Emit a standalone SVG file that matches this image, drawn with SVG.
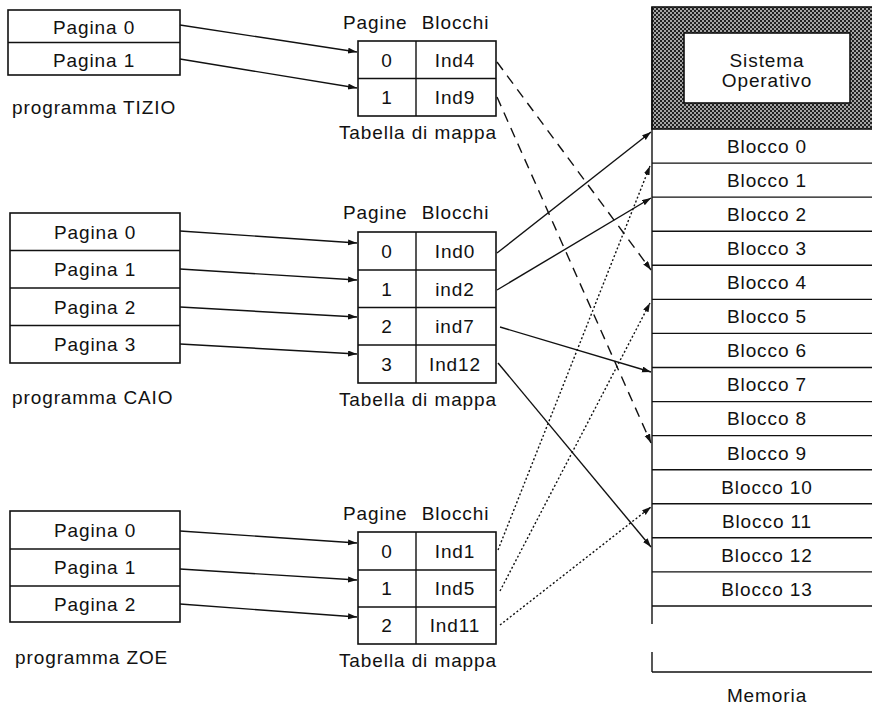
<svg xmlns="http://www.w3.org/2000/svg" width="872" height="708" viewBox="0 0 872 708">
<style>
text{font-family:"Liberation Sans",Arial,sans-serif;font-size:19px;fill:#111;letter-spacing:0.9px}
.c{text-anchor:middle}
.box{fill:#fff;stroke:#111;stroke-width:1.6}
.ln{stroke:#111;stroke-width:1.4;fill:none}
.con{stroke:#111;stroke-width:1.4;fill:none}
.dash{stroke-dasharray:10 7}
.dot{stroke-dasharray:2 2.2}
</style>
<defs>
<marker id="ah" markerUnits="userSpaceOnUse" markerWidth="10" markerHeight="8" refX="9" refY="3" orient="auto">
<path d="M0,0 L9,3 L0,6 Z" fill="#111"/>
</marker>
<pattern id="hatch" width="4" height="4" patternUnits="userSpaceOnUse">
<rect width="4" height="4" fill="#a5a5a5"/>
<rect width="2" height="2" fill="#222"/>
<rect x="2" y="2" width="2" height="2" fill="#222"/>
</pattern>
</defs>

<g id="tizio">
<rect class="box" x="8" y="10" width="172" height="65"/>
<line class="ln" x1="8" y1="42.5" x2="180" y2="42.5"/>
<text class="c" x="94" y="34">Pagina 0</text>
<text class="c" x="94" y="67">Pagina 1</text>
<text x="12" y="114">programma TIZIO</text>
</g>

<g id="tizio-table">
<text x="343" y="29">Pagine <tspan dx="8">Blocchi</tspan></text>
<rect class="box" x="358" y="41" width="138" height="75"/>
<line class="ln" x1="358" y1="78.5" x2="496" y2="78.5"/>
<line class="ln" x1="416" y1="41" x2="416" y2="116"/>
<text class="c" x="387" y="67">0</text>
<text class="c" x="455" y="67">Ind4</text>
<text class="c" x="387" y="104">1</text>
<text class="c" x="455" y="104">Ind9</text>
<text class="c" x="418" y="139">Tabella di mappa</text>
</g>

<g id="caio">
<rect class="box" x="10" y="213" width="170" height="150"/>
<line class="ln" x1="10" y1="250.5" x2="180" y2="250.5"/>
<line class="ln" x1="10" y1="288" x2="180" y2="288"/>
<line class="ln" x1="10" y1="325.5" x2="180" y2="325.5"/>
<text class="c" x="95" y="239">Pagina 0</text>
<text class="c" x="95" y="276">Pagina 1</text>
<text class="c" x="95" y="314">Pagina 2</text>
<text class="c" x="95" y="351">Pagina 3</text>
<text x="12" y="404">programma CAIO</text>
</g>

<g id="caio-table">
<text x="343" y="219">Pagine <tspan dx="8">Blocchi</tspan></text>
<rect class="box" x="358" y="232" width="138" height="151"/>
<line class="ln" x1="358" y1="270" x2="496" y2="270"/>
<line class="ln" x1="358" y1="307.5" x2="496" y2="307.5"/>
<line class="ln" x1="358" y1="345" x2="496" y2="345"/>
<line class="ln" x1="416" y1="232" x2="416" y2="383"/>
<text class="c" x="387" y="258">0</text>
<text class="c" x="455" y="258">Ind0</text>
<text class="c" x="387" y="296">1</text>
<text class="c" x="455" y="296">ind2</text>
<text class="c" x="387" y="333">2</text>
<text class="c" x="455" y="333">ind7</text>
<text class="c" x="387" y="371">3</text>
<text class="c" x="455" y="371">Ind12</text>
<text class="c" x="418" y="406">Tabella di mappa</text>
</g>

<g id="zoe">
<rect class="box" x="10" y="511" width="170" height="111"/>
<line class="ln" x1="10" y1="549" x2="180" y2="549"/>
<line class="ln" x1="10" y1="586" x2="180" y2="586"/>
<text class="c" x="95" y="537">Pagina 0</text>
<text class="c" x="95" y="574">Pagina 1</text>
<text class="c" x="95" y="611">Pagina 2</text>
<text x="15" y="664">programma ZOE</text>
</g>

<g id="zoe-table">
<text x="343" y="520">Pagine <tspan dx="8">Blocchi</tspan></text>
<rect class="box" x="358" y="532" width="138" height="112"/>
<line class="ln" x1="358" y1="570" x2="496" y2="570"/>
<line class="ln" x1="358" y1="607" x2="496" y2="607"/>
<line class="ln" x1="416" y1="532" x2="416" y2="644"/>
<text class="c" x="387" y="558">0</text>
<text class="c" x="455" y="558">Ind1</text>
<text class="c" x="387" y="595">1</text>
<text class="c" x="455" y="595">Ind5</text>
<text class="c" x="387" y="632">2</text>
<text class="c" x="455" y="632">Ind11</text>
<text class="c" x="418" y="667">Tabella di mappa</text>
</g>

<g id="memory">
<rect x="652" y="7" width="222" height="122" fill="url(#hatch)" stroke="#111" stroke-width="1.6"/>
<rect class="box" x="684" y="33" width="166" height="70"/>
<text class="c" x="767" y="67">Sistema</text>
<text class="c" x="767" y="87">Operativo</text>
<line class="ln" x1="652" y1="7" x2="652" y2="624" stroke-width="1.6"/>
<line class="ln" x1="652" y1="652" x2="652" y2="672" stroke-width="1.6"/>
<line class="ln" x1="652" y1="672" x2="872" y2="672" stroke-width="1.6"/>
<g class="ln">
<line x1="652" y1="163.1" x2="872" y2="163.1"/>
<line x1="652" y1="197.1" x2="872" y2="197.1"/>
<line x1="652" y1="231.2" x2="872" y2="231.2"/>
<line x1="652" y1="265.3" x2="872" y2="265.3"/>
<line x1="652" y1="299.4" x2="872" y2="299.4"/>
<line x1="652" y1="333.4" x2="872" y2="333.4"/>
<line x1="652" y1="367.5" x2="872" y2="367.5"/>
<line x1="652" y1="401.6" x2="872" y2="401.6"/>
<line x1="652" y1="435.6" x2="872" y2="435.6"/>
<line x1="652" y1="469.7" x2="872" y2="469.7"/>
<line x1="652" y1="503.8" x2="872" y2="503.8"/>
<line x1="652" y1="537.8" x2="872" y2="537.8"/>
<line x1="652" y1="571.9" x2="872" y2="571.9"/>
<line x1="652" y1="606" x2="872" y2="606"/>
</g>
<text class="c" x="767" y="153">Blocco 0</text>
<text class="c" x="767" y="187">Blocco 1</text>
<text class="c" x="767" y="221">Blocco 2</text>
<text class="c" x="767" y="255">Blocco 3</text>
<text class="c" x="767" y="289">Blocco 4</text>
<text class="c" x="767" y="323">Blocco 5</text>
<text class="c" x="767" y="357">Blocco 6</text>
<text class="c" x="767" y="391">Blocco 7</text>
<text class="c" x="767" y="425">Blocco 8</text>
<text class="c" x="767" y="460">Blocco 9</text>
<text class="c" x="767" y="494">Blocco 10</text>
<text class="c" x="767" y="528">Blocco 11</text>
<text class="c" x="767" y="562">Blocco 12</text>
<text class="c" x="767" y="596">Blocco 13</text>
<text class="c" x="767" y="702">Memoria</text>
</g>

<g id="connectors" class="con">
<line x1="180" y1="25" x2="357" y2="52" marker-end="url(#ah)"/>
<line x1="180" y1="59" x2="357" y2="88" marker-end="url(#ah)"/>
<line x1="180" y1="231" x2="357" y2="243" marker-end="url(#ah)"/>
<line x1="180" y1="269" x2="357" y2="280" marker-end="url(#ah)"/>
<line x1="180" y1="307" x2="357" y2="317" marker-end="url(#ah)"/>
<line x1="180" y1="344" x2="357" y2="354" marker-end="url(#ah)"/>
<line x1="180" y1="531" x2="357" y2="543" marker-end="url(#ah)"/>
<line x1="180" y1="569" x2="357" y2="580" marker-end="url(#ah)"/>
<line x1="180" y1="604" x2="357" y2="617" marker-end="url(#ah)"/>
<line class="dash" x1="497" y1="62" x2="651" y2="270" marker-end="url(#ah)"/>
<line class="dash" x1="497" y1="97" x2="651" y2="443" marker-end="url(#ah)"/>
<line x1="497" y1="253" x2="651" y2="132" marker-end="url(#ah)"/>
<line x1="497" y1="290" x2="651" y2="198" marker-end="url(#ah)"/>
<line x1="500" y1="327" x2="651" y2="372" marker-end="url(#ah)"/>
<line x1="498" y1="363" x2="651" y2="547" marker-end="url(#ah)"/>
<line class="dot" x1="498" y1="550" x2="650" y2="166" marker-end="url(#ah)"/>
<line class="dot" x1="500" y1="591" x2="650" y2="303" marker-end="url(#ah)"/>
<line class="dot" x1="500" y1="625" x2="651" y2="507" marker-end="url(#ah)"/>
</g>
</svg>
